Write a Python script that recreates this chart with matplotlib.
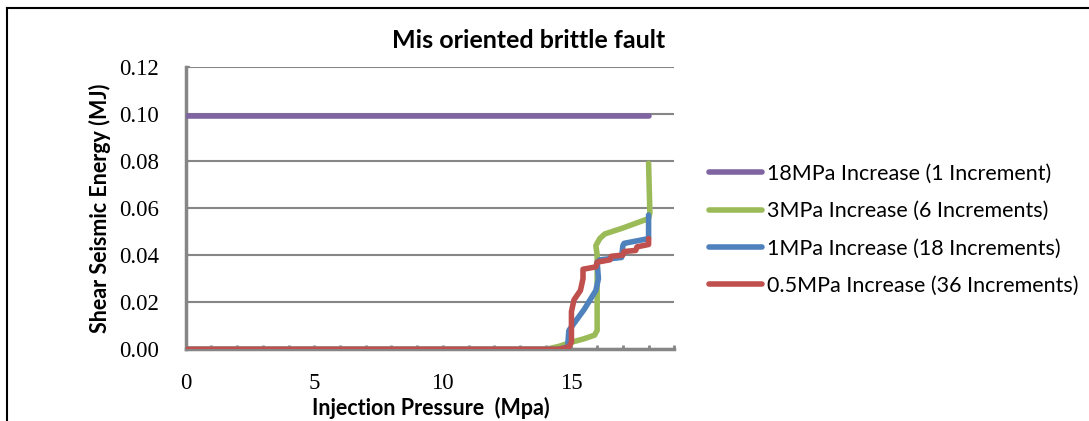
import matplotlib
matplotlib.use("Agg")
import matplotlib.pyplot as plt
from matplotlib.lines import Line2D

# pressure (MPa) / shear seismic energy (MJ)
x_18mpa = [0, 18]
y_18mpa = [0.099, 0.099]

x_3mpa = [0, 14.0, 14.5, 15.0, 15.5, 15.9, 16.0, 16.0, 15.95, 16.1, 16.3, 17.0, 18.0, 18.05, 18.0]
y_3mpa = [0, 0, 0.0012, 0.003, 0.0045, 0.006, 0.008, 0.040, 0.044, 0.047, 0.049, 0.0515, 0.0555, 0.058, 0.079]

x_1mpa = [0, 14.5, 14.85, 14.9, 15.5, 15.95, 16.05, 16.0, 16.1, 16.95, 17.0, 17.05, 18.0, 18.0]
y_1mpa = [0, 0, 0.001, 0.008, 0.017, 0.025, 0.030, 0.037, 0.038, 0.039, 0.044, 0.045, 0.047, 0.057]

x_05mpa = [0, 14.5, 14.9, 15.0, 15.0, 15.1, 15.35, 15.45, 15.45, 15.95, 16.0, 16.5, 16.55, 17.0, 17.05,
           17.5, 17.55, 18.0, 18.0]
y_05mpa = [0, 0, 0.001, 0.003, 0.016, 0.021, 0.025, 0.030, 0.034, 0.035, 0.037, 0.038, 0.0395, 0.040, 0.0415,
           0.042, 0.0435, 0.0445, 0.047]

labels = ["18MPa Increase (1 Increment)", "3MPa Increase (6 Increments)",
          "1MPa Increase (18 Increments)", "0.5MPa Increase (36 Increments)"]
colors = ["#8064A2", "#9BBB59", "#4F81BD", "#C0504D"]

W, H = 1089, 421
fig = plt.figure(figsize=(W / 100, H / 100), dpi=100)
ax = fig.add_axes([185.7 / W, (H - 349.3) / H, (674.3 - 185.7) / W, (349.3 - 66.7) / H])

series = [(x_18mpa, y_18mpa), (x_3mpa, y_3mpa), (x_1mpa, y_1mpa), (x_05mpa, y_05mpa)]
for (xs, ys), lab, c in zip(series, labels, colors):
    ax.plot(xs, ys, color=c, lw=4, label=lab, solid_capstyle="round", solid_joinstyle="round", zorder=3)

ax.set_xlim(0, 19)
ax.set_ylim(0, 0.12)
ax.set_xticks([0, 5, 10, 15])
ax.set_xticks(range(0, 20), minor=True)
ax.set_yticks([0, 0.02, 0.04, 0.06, 0.08, 0.10, 0.12])
ax.set_yticklabels(["0.00", "0.02", "0.04", "0.06", "0.08", "0.10", "0.12"])
ax.grid(axis="y", color="#868686", lw=1.5, zorder=1)
ax.set_axisbelow(True)

for s in ["top", "right"]:
    ax.spines[s].set_visible(False)
for s in ["left", "bottom"]:
    ax.spines[s].set_color("#868686")
    ax.spines[s].set_linewidth(2.5)

serif = ["Liberation Serif", "DejaVu Serif"]
ax.tick_params(axis="x", which="both", direction="in", length=3, width=2, color="#868686", pad=17)
ax.tick_params(axis="y", direction="in", length=3, width=1.5, color="#868686", pad=19)
for t in ax.get_xticklabels() + ax.get_yticklabels():
    t.set_fontfamily(serif)
    t.set_fontsize(16.5)

ax.set_ylabel("Shear Seismic Energy (MJ)", fontfamily="Lato", fontweight="bold", fontsize=15.5, labelpad=6)
fig.text(431 / W, 1 - 408 / H, "Injection Pressure  (Mpa)", ha="center", va="center",
         fontfamily="Lato", fontweight="bold", fontsize=15.5)

fig.text(529 / W, 1 - 40 / H, "Mis oriented brittle fault", ha="center", va="center",
         fontfamily="Lato", fontweight="bold", fontsize=18)

leg = fig.legend(loc="upper left", bbox_to_anchor=(700 / W, 1 - 155 / H), frameon=False,
                 prop={"family": "Lato", "size": 15.5}, handlelength=2.5, handletextpad=0.2,
                 labelspacing=0.81, borderaxespad=0)
for h in leg.get_lines():
    h.set_linewidth(4)

# outer chart border (only top and left edges are inside the crop)
fig.add_artist(Line2D([7 / W, 7 / W], [0, 1 - 8 / H], color="black", lw=1.5, transform=fig.transFigure))
fig.add_artist(Line2D([7 / W, 1], [1 - 8 / H, 1 - 8 / H], color="black", lw=1.5, transform=fig.transFigure))

fig.savefig("out.png", dpi=100)
